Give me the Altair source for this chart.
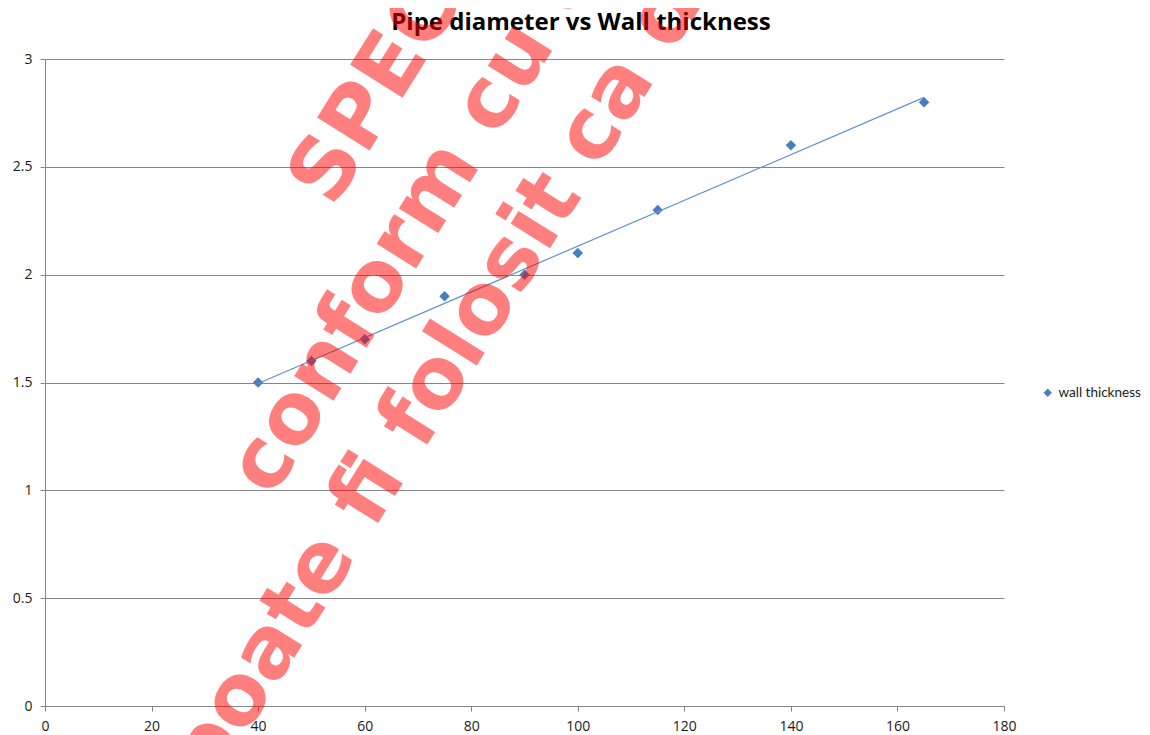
import altair as alt
import pandas as pd

# ---- data ----
diameter = [40, 50, 60, 75, 90, 100, 115, 140, 165]
thickness = [1.5, 1.6, 1.7, 1.9, 2.0, 2.1, 2.3, 2.6, 2.8]
series_name = "wall thickness"
x_ticks = [0, 20, 40, 60, 80, 100, 120, 140, 160, 180]
y_ticks = [0, 0.5, 1, 1.5, 2, 2.5, 3]
title_text = "Pipe diameter vs Wall thickness"
watermark_lines = ["SPECIMEN", "conform cu originalul", "poate fi folosit ca document"]

df = pd.DataFrame({
    "diameter": diameter,
    "thickness": thickness,
    "series": [series_name] * len(diameter),
})

W, H = 959, 647
GRID = "#868686"
BLUE = "#4A7EBB"
LABEL_FONT = "Open Sans"

x_enc = alt.X("diameter:Q", scale=alt.Scale(domain=[0, 180], nice=False),
              axis=alt.Axis(values=x_ticks, title=None, grid=False, tickSize=5,
                            labelFlush=False, labelOverlap=False,
                            labelPadding=8, labelFont=LABEL_FONT, labelFontSize=14,
                            labelColor="#1a1a1a", domainColor=GRID, tickColor=GRID))
y_enc = alt.Y("thickness:Q", scale=alt.Scale(domain=[0, 3], nice=False),
              axis=alt.Axis(values=y_ticks, title=None, grid=True, tickSize=5,
                            labelFlush=False, labelOverlap=False,
                            format="~g", labelPadding=8, labelFont=LABEL_FONT,
                            labelFontSize=14, labelColor="#1a1a1a",
                            domainColor=GRID, tickColor=GRID, gridColor=GRID))

points = alt.Chart(df).mark_point(shape="diamond", filled=True, size=110, opacity=1).encode(
    x=x_enc,
    y=y_enc,
    color=alt.Color("series:N", scale=alt.Scale(range=[BLUE]),
                    legend=alt.Legend(title=None, orient="none", legendX=996, legendY=327,
                                      symbolType="diamond", symbolSize=70,
                                      labelFontSize=13.5, labelFont="Lato",
                                      labelColor="#1a1a1a", labelLimit=200)),
)

trend = alt.Chart(df).transform_regression(
    "diameter", "thickness", extent=[40, 165]
).mark_line(color="#5F93D3", strokeWidth=1.2).encode(
    x="diameter:Q", y="thickness:Q"
)

title = alt.Chart(pd.DataFrame({"t": [title_text]})).mark_text(
    font="Open Sans", fontSize=24, fontWeight="bold", color="#000000",
    align="center", baseline="alphabetic",
).encode(x=alt.value(536), y=alt.value(-29), text="t:N")

wm_pos = [(288, 150), (227, 440), (167, 730)]
wm_layers = []
for line, (px, py) in zip(watermark_lines, wm_pos):
    wm_layers.append(
        alt.Chart(pd.DataFrame({"t": [line]})).mark_text(
            font="DejaVu Sans", fontWeight="bold", fontSize=85, angle=302,
            align="left", baseline="alphabetic", color="#ff0000", opacity=0.5,
        ).encode(x=alt.value(px), y=alt.value(py), text="t:N")
    )

chart = alt.layer(points, trend, title, *wm_layers).properties(
    width=W, height=H,
    autosize=alt.AutoSizeParams(type="none"),
    padding={"left": 37, "top": 51, "right": 138, "bottom": 29},
    background="white",
).configure_view(stroke=None).configure_axis(
    gridWidth=1, gridOpacity=1,
)

chart.save("out.html", embed_options={"renderer": "svg", "actions": False})
